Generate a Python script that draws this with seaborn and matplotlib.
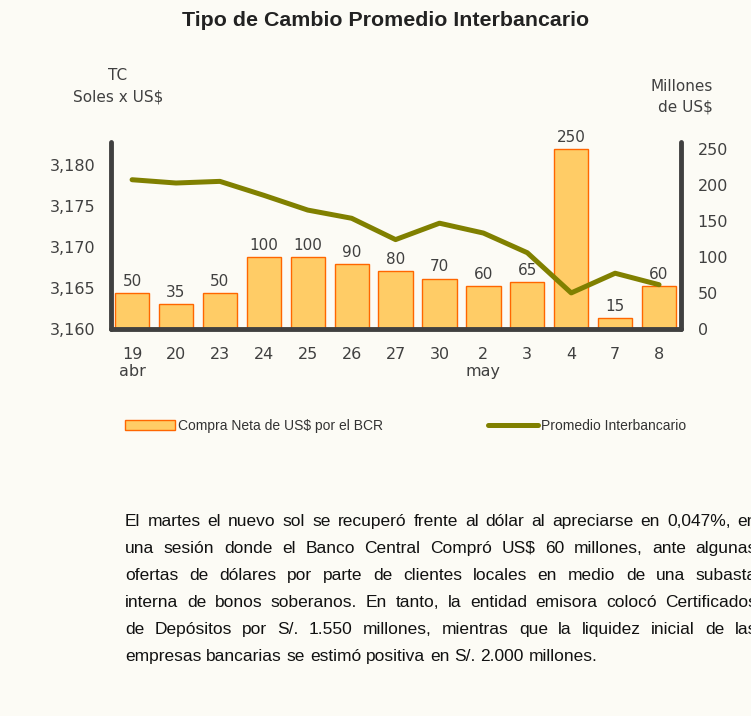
import matplotlib
matplotlib.use("Agg")
import matplotlib.pyplot as plt
from matplotlib.patches import Patch
from matplotlib.lines import Line2D
import seaborn as sns
import pandas as pd

# datos
fechas = ["19", "20", "23", "24", "25", "26", "27", "30", "2", "3", "4", "7", "8"]
etiquetas = ["19\nabr", "20", "23", "24", "25", "26", "27", "30", "2\nmay", "3", "4", "7", "8"]
compras = [50, 35, 50, 100, 100, 90, 80, 70, 60, 65, 250, 15, 60]
tipo_cambio = [3178.2, 3177.8, 3178.0, 3176.3, 3174.5, 3173.5, 3170.9,
               3172.9, 3171.7, 3169.3, 3164.4, 3166.8, 3165.4]
ticks_tc = [3160, 3165, 3170, 3175, 3180]
ticks_mill = [0, 50, 100, 150, 200, 250]

parrafo = [
    "El martes el nuevo sol se recuperó frente al dólar al apreciarse en 0,047%, en",
    "una sesión donde el Banco Central Compró US$ 60 millones, ante algunas",
    "ofertas de dólares por parte de clientes locales en medio de una subasta",
    "interna de bonos soberanos. En tanto, la entidad emisora colocó Certificados",
    "de Depósitos por S/. 1.550 millones, mientras que la liquidez inicial de las",
    "empresas bancarias se estimó positiva en S/. 2.000 millones.",
]

df = pd.DataFrame({"fecha": fechas, "compra": compras, "tc": tipo_cambio})

fondo = "#FCFBF5"
gris = "#404040"
barra = "#FFCC66"
borde = "#FF6600"
oliva = "#808000"

sns.set_style("white")
plt.rcParams["font.family"] = ["DejaVu Sans"]

W, H = 751, 716
fig = plt.figure(figsize=(W / 100, H / 100), dpi=100, facecolor=fondo)
ax = fig.add_axes([111 / W, 1 - 329 / H, (681 - 111) / W, (329 - 142) / H])
ax.set_facecolor(fondo)

# barras (eje derecho)
sns.barplot(data=df, x="fecha", y="compra", ax=ax, color=barra, width=0.78,
            edgecolor=borde, linewidth=1, saturation=1)
ax.bar_label(ax.containers[0], padding=3, fontsize=11, color=gris)
ax.set_ylim(0, 260)
ax.set_yticks(ticks_mill)
ax.set_xlim(-0.48, 12.5)
ax.set_xticks(range(len(fechas)))
ax.set_xticklabels(etiquetas)
ax.set_xlabel("")
ax.set_ylabel("")

# linea (eje izquierdo)
ax2 = ax.twinx()
sns.lineplot(data=df, x="fecha", y="tc", ax=ax2, color=oliva, linewidth=3.6,
             sort=False, solid_capstyle="round", solid_joinstyle="round")
ax2.set_ylim(3160, 3182.8)
ax2.set_yticks(ticks_tc)
ax2.set_yticklabels([f"{v:,}" for v in ticks_tc])
ax2.yaxis.tick_left()
ax2.set_ylabel("")
ax2.tick_params(axis="y", length=0, labelsize=11.5, labelcolor=gris, pad=11)

ax.yaxis.tick_right()
ax.tick_params(axis="both", length=0, labelsize=11.5, labelcolor=gris)
ax.tick_params(axis="x", pad=13)
ax.tick_params(axis="y", pad=12)

for a in (ax, ax2):
    for s in a.spines.values():
        s.set_visible(False)
for s in (ax.spines["bottom"], ax.spines["right"], ax2.spines["left"]):
    s.set_visible(True)
    s.set_color(gris)
    s.set_linewidth(3.5)
    s.set_capstyle("round")

# textos
fig.text(386 / W, 1 - 20 / H, "Tipo de Cambio Promedio Interbancario",
         ha="center", va="center", fontsize=15.4, fontweight="bold",
         family="Liberation Sans", color="#222222")
fig.text(118 / W, 1 - 86 / H, "TC\nSoles x US$", ha="center", va="center",
         fontsize=11, color=gris, linespacing=1.5)
fig.text(713 / W, 1 - 97 / H, "Millones\nde US$", ha="right", va="center",
         multialignment="right", fontsize=11, color=gris, linespacing=1.5)

# leyenda
manijas = [Patch(facecolor=barra, edgecolor=borde, linewidth=1),
           Line2D([], [], color=oliva, linewidth=3.6, solid_capstyle="round")]
fig.legend(manijas, ["Compra Neta de US$ por el BCR", "Promedio Interbancario"],
           loc="center left", bbox_to_anchor=(118 / W, 1 - 426 / H), ncol=2,
           frameon=False, borderpad=0, handlelength=3.6, handletextpad=0.25,
           columnspacing=7.5,
           prop={"family": "Liberation Sans", "size": 10},
           labelcolor="#333333")

# parrafo justificado
renderer = fig.canvas.get_renderer()
x0, x1 = 125, 757
tam = 12.5
for i, linea in enumerate(parrafo):
    y = 1 - (526 + 27 * i) / H
    palabras = linea.split(" ")
    textos = [fig.text(0, y, p, ha="left", va="baseline", fontsize=tam,
                       family="Liberation Sans", color="#111111") for p in palabras]
    anchos = [t.get_window_extent(renderer).width for t in textos]
    if i < len(parrafo) - 1:
        hueco = (x1 - x0 - sum(anchos)) / (len(palabras) - 1)
    else:
        hueco = 0.278 * tam * 100 / 72
    x = x0
    for t, w in zip(textos, anchos):
        t.set_x(x / W)
        x += w + hueco

fig.savefig("out.png", dpi=100, facecolor=fondo)
